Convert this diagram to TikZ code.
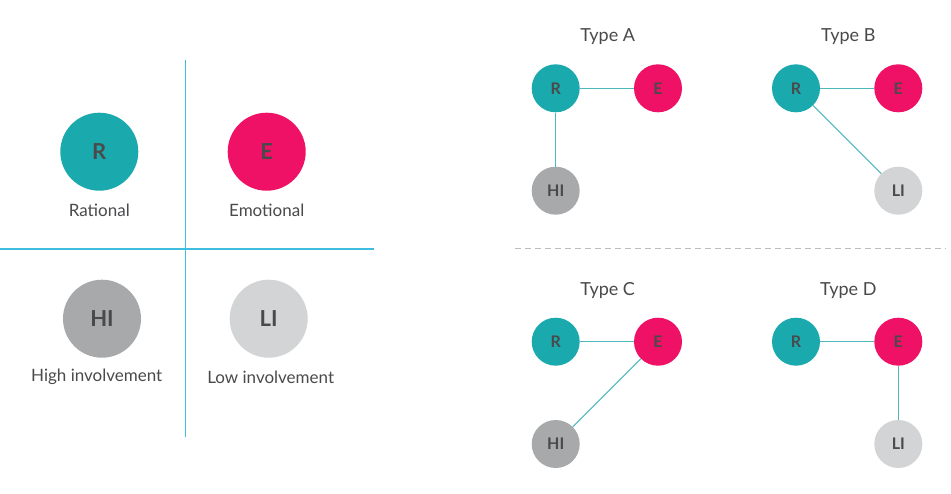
\documentclass[tikz,border=0pt]{standalone}
\usepackage{fontspec}
\setmainfont{Lato}
\definecolor{teal1}{HTML}{1AAAAE}
\definecolor{pink1}{HTML}{EE1166}
\definecolor{dgray}{HTML}{A8A9AB}
\definecolor{lgray}{HTML}{D2D4D5}
\definecolor{txt}{HTML}{4A4A4C}
\definecolor{sep}{HTML}{3FBDE0}
\definecolor{conn}{HTML}{4FB8BC}
\definecolor{dash}{HTML}{BDBDBD}
\tikzset{
  big/.style={circle,minimum size=78pt,inner sep=0pt,text=txt,font=\fontsize{22}{24}\selectfont\bfseries},
  small/.style={circle,minimum size=48pt,inner sep=0pt,text=txt,font=\fontsize{16}{18}\selectfont\bfseries},
  lab/.style={text=txt,font=\fontsize{17}{20}\selectfont},
  ttl/.style={text=txt,font=\fontsize{18}{21}\selectfont},
  cn/.style={draw=conn,line width=1.1pt},
  sepl/.style={draw=sep,line width=1.2pt},
}
\begin{document}
\begin{tikzpicture}[x=1pt,y=-1pt]
\useasboundingbox[fill=white] (0,0) rectangle (951,493);
% left panel
\coordinate (vt) at (185.3,60);
\coordinate (vb) at (185.3,437);
\coordinate (hl) at (0,249);
\coordinate (hr) at (374,249);
\draw[sepl] (vt) -- (vb);
\draw[sepl] (hl) -- (hr);
\node[big,fill=teal1] (bR) at (99.3,151.7) {R};
\node[big,fill=pink1] (bE) at (266.7,151.7) {E};
\node[big,fill=dgray] (bHI) at (102,318.7) {HI};
\node[big,fill=lgray] (bLI) at (268.7,318.7) {LI};
\node[lab] (lR) at (99.3,210) {Rational};
\node[lab] (lE) at (266.7,210) {Emotional};
\node[lab] (lHI) at (96.7,377) {High involvement};
\node[lab] (lLI) at (270.7,377) {Low involvement};
% dashed separator
\coordinate (dl) at (515,248.7);
\coordinate (dr) at (946,248.7);
\draw[draw=dash,line width=1pt,dash pattern=on 6pt off 4pt] (dl) -- (dr);
% Type A
\node[ttl] (tA) at (607.7,36.7) {Type A};
\node[small,fill=teal1] (aR) at (555.7,88.3) {R};
\node[small,fill=pink1] (aE) at (658,88.3) {E};
\node[small,fill=dgray] (aHI) at (555.7,190.7) {HI};
\draw[cn] (aR) -- (aE);
\draw[cn] (aR) -- (aHI);
% Type B
\node[ttl] (tB) at (848.3,36.7) {Type B};
\node[small,fill=teal1] (bbR) at (796,88.3) {R};
\node[small,fill=pink1] (bbE) at (898.3,88.3) {E};
\node[small,fill=lgray] (bbLI) at (898.3,190.7) {LI};
\draw[cn] (bbR) -- (bbE);
\draw[cn] (bbR) -- (bbLI);
% Type C
\node[ttl] (tC) at (607.7,290.7) {Type C};
\node[small,fill=teal1] (cR) at (555.7,341.7) {R};
\node[small,fill=pink1] (cE) at (658,341.7) {E};
\node[small,fill=dgray] (cHI) at (555.7,444) {HI};
\draw[cn] (cR) -- (cE);
\draw[cn] (cE) -- (cHI);
% Type D
\node[ttl] (tD) at (848.3,290.7) {Type D};
\node[small,fill=teal1] (dR) at (796,341.7) {R};
\node[small,fill=pink1] (dE) at (898.3,341.7) {E};
\node[small,fill=lgray] (dLI) at (898.3,444) {LI};
\draw[cn] (dR) -- (dE);
\draw[cn] (dE) -- (dLI);
\end{tikzpicture}
\end{document}
